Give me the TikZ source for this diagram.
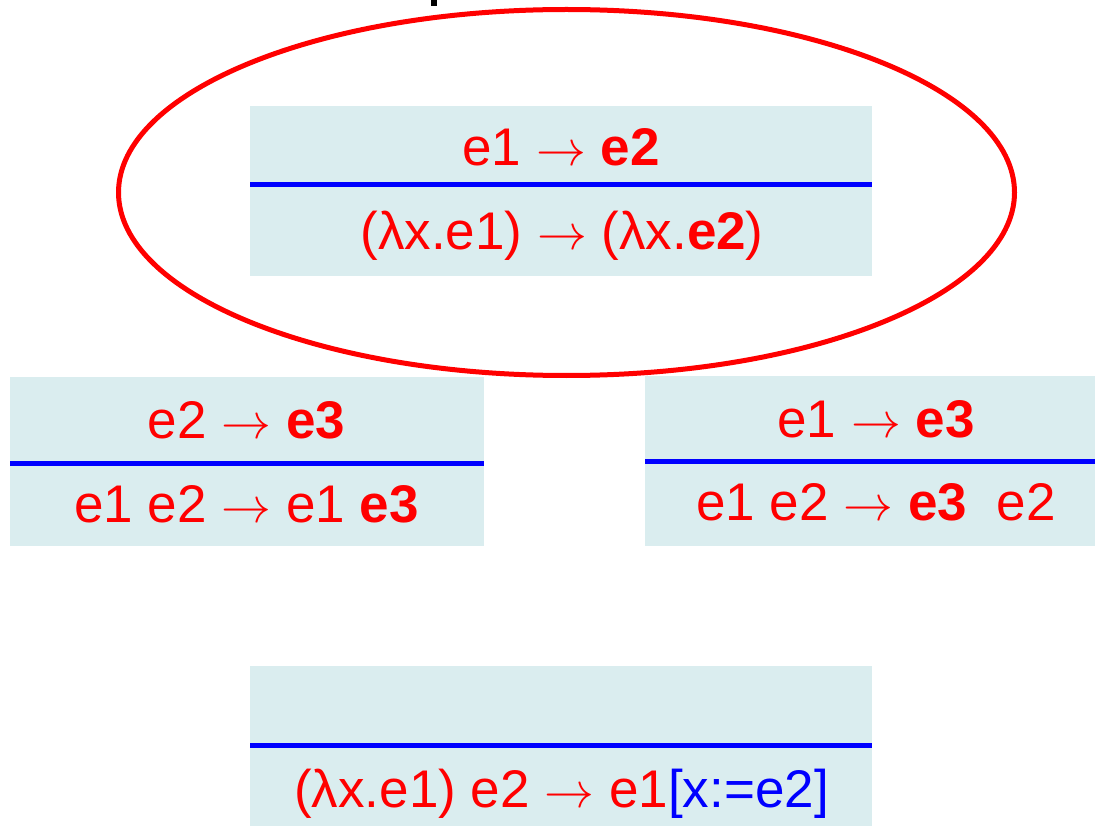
\documentclass[tikz,border=0pt]{standalone}
\usepackage{graphicx}
\usepackage{fontspec}
\setmainfont{Liberation Sans}
\definecolor{boxbg}{RGB}{218,237,239}
\newcommand{\rarr}{\resizebox{0.94em}{!}{$\rightarrow$}}
\begin{document}
\begin{tikzpicture}[x=1pt,y=-1pt,
  box/.style={fill=boxbg, draw=none, inner sep=0pt, outer sep=0pt, rectangle},
  rulebar/.style={draw=blue, line width=5pt},
  txt/.style={text=red, font=\fontsize{53}{60}\selectfont, anchor=base, inner sep=0pt},
  oval/.style={draw=red, line width=5pt}]
\useasboundingbox (0,0) rectangle (1095,826);
% cut-off title fragment
\fill[black] (431,0) rectangle (437,6);
% boxes
\node[box, minimum width=622pt, minimum height=170pt] (b1) at (561,191) {};
\node[box, minimum width=474pt, minimum height=169pt] (b2) at (247,461.5) {};
\node[box, minimum width=450pt, minimum height=170pt] (b3) at (870,461) {};
\node[box, minimum width=622pt, minimum height=160pt] (b4) at (561,746) {};
% rules
\coordinate (r1l) at (250,185); \coordinate (r1r) at (872,185);
\coordinate (r2l) at (10,463); \coordinate (r2r) at (484,463);
\coordinate (r3l) at (645,461); \coordinate (r3r) at (1095,461);
\coordinate (r4l) at (250,745); \coordinate (r4r) at (872,745);
\draw[rulebar] (r1l) -- (r1r);
\draw[rulebar] (r2l) -- (r2r);
\draw[rulebar] (r3l) -- (r3r);
\draw[rulebar] (r4l) -- (r4r);
% texts
\node[txt] (t1a) at (561,166) {e1 \rarr{} \textbf{e2}};
\node[txt] (t1b) at (562,250) {(λx.e1) \rarr{} (λx.\textbf{e2})};
\node[txt] (t2a) at (246.5,438) {e2 \rarr{} \textbf{e3}};
\node[txt] (t2b) at (246.5,522) {e1 e2 \rarr{} e1 \textbf{e3}};
\node[txt] (t3a) at (876,437) {e1 \rarr{} \textbf{e3}};
\node[txt] (t3b) at (876,520) {e1 e2 \rarr{} \textbf{e3}\ \ e2};
\node[txt] (t4b) at (561.5,807) {(λx.e1) e2 \rarr{} e1\textcolor{blue}{[x:=e2]}};
% ellipse
\coordinate (oc) at (566.5,192.5);
\draw[oval] (oc) ellipse [x radius=448, y radius=183];
\end{tikzpicture}
\end{document}
